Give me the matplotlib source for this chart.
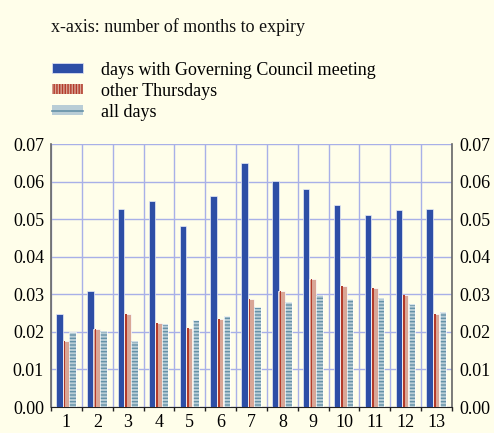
import numpy as np
import matplotlib
matplotlib.use("Agg")
import matplotlib.pyplot as plt
from matplotlib.patches import Patch
from matplotlib.lines import Line2D
from matplotlib.legend_handler import HandlerTuple

months = np.arange(1, 14)
gc_days = [0.0249, 0.0309, 0.0527, 0.0549, 0.0481, 0.0561, 0.0651,
           0.0603, 0.0580, 0.0538, 0.0512, 0.0524, 0.0528]
other_thu = [0.0177, 0.0209, 0.0248, 0.0224, 0.0211, 0.0234, 0.0289,
             0.0310, 0.0341, 0.0321, 0.0317, 0.0298, 0.0249]
all_days = [0.0199, 0.0203, 0.0176, 0.0222, 0.0233, 0.0243, 0.0267,
            0.0279, 0.0299, 0.0287, 0.0291, 0.0275, 0.0253]
labels = ["days with Governing Council meeting", "other Thursdays", "all days"]

bg = "#fffeea"
blue = "#2d4ea6"
salmon = "#d9a696"
darkred = "#b33a2a"
lightblue = "#b9cdd6"
stripe = "#6592a8"
grid_c = "#a8b0e8"

plt.rcParams["font.family"] = ["Liberation Serif", "DejaVu Serif"]
plt.rcParams["hatch.linewidth"] = 1.0

fig = plt.figure(figsize=(4.94, 4.33), dpi=100, facecolor=bg)
ax = fig.add_axes([0.1032, 0.060, 0.8118, 0.607], facecolor=bg)

w = 0.21
ax.bar(months - 0.225, gc_days, w, color=blue, edgecolor="#e8ecf8", linewidth=0.5, zorder=3)
ax.bar(months - 0.02, other_thu, w, color=salmon, edgecolor="white", linewidth=0.5, zorder=3)
ax.bar(months - 0.06, other_thu, 0.05, color=darkred, linewidth=0, zorder=4)
ax.bar(months + 0.2, all_days, w, color=lightblue, edgecolor=stripe, hatch="-----",
       linewidth=0, zorder=3)
ax.bar(months + 0.2, all_days, w, fill=False, edgecolor="white", linewidth=0.5, zorder=4)

ax.set_xlim(0.55, 13.5)
ax.set_ylim(0, 0.07)
ax.set_yticks(np.arange(0, 0.071, 0.01))
ax.set_yticklabels([f"{v:.2f}" for v in np.arange(0, 0.071, 0.01)])
ax.set_xticks(months)
ax.set_xticks(np.arange(0.5, 14, 1), minor=True)

ax.grid(True, axis="y", which="major", color=grid_c, linewidth=1, zorder=0)
ax.grid(True, axis="x", which="minor", color=grid_c, linewidth=1, zorder=0)

ax.tick_params(axis="y", which="both", length=0, labelsize=13, pad=5,
               left=True, right=True, labelleft=True, labelright=True)
ax.tick_params(axis="x", which="major", length=0, labelsize=13, pad=5)
ax.tick_params(axis="x", which="minor", length=3, direction="out", color="#222222", width=1)

for s in ["left", "right"]:
    ax.spines[s].set_color("#666666")
    ax.spines[s].set_linewidth(1.2)
ax.spines["bottom"].set_color("#222222")
ax.spines["top"].set_visible(False)

fig.text(0.103, 0.938, "x-axis: number of months to expiry", fontsize=13,
         va="center", ha="left", color="#111111")

h1 = Patch(facecolor=blue, edgecolor="#d8ddf0", linewidth=0.6)
h2 = Patch(facecolor=salmon, edgecolor=darkred, hatch="||||||", linewidth=0)
h3 = (Patch(facecolor=lightblue, linewidth=0), Line2D([], [], color=stripe, linewidth=1.2))
fig.legend([h1, h2, h3], labels, loc="upper left", bbox_to_anchor=(0.072, 0.895),
           frameon=False, fontsize=13, handlelength=1.75, handleheight=0.45,
           handletextpad=0.95, labelspacing=0.22,
           handler_map={tuple: HandlerTuple(ndivide=1, pad=0)})

fig.savefig("out.png", dpi=100, facecolor=bg)
